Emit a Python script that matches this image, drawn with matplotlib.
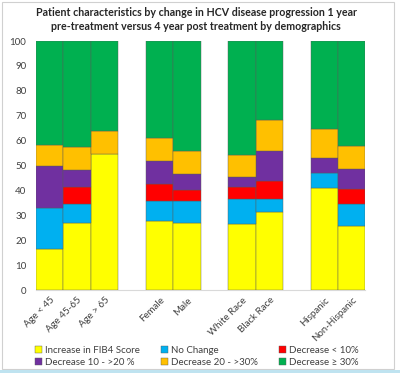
import numpy as np
import matplotlib
matplotlib.use("Agg")
from matplotlib import pyplot as plt
from matplotlib.patches import Rectangle

plt.rcParams["font.family"] = ["Lato", "DejaVu Sans"]

# categories, empty strings are the gaps between groups
categories = ["Age < 45", "Age 45-65", "Age > 65", "",
              "Female", "Male", "",
              "White Race", "Black Race", "",
              "Hispanic", "Non-Hispanic"]

series_names = ["Increase in FIB4 Score", "No Change", "Decrease < 10%",
                "Decrease 10 - >20 %", "Decrease 20 - >30%", "Decrease \u2265 30%"]
colors = ["#FFFF00", "#00B0F0", "#FF0000", "#7030A0", "#FFC000", "#00B050"]

# percent of patients per segment (gap columns are 0)
increase  = [16.3, 27.0, 54.5, 0, 27.7, 26.8, 0, 26.4, 31.5, 0, 41.1, 25.8]
no_change = [16.8,  7.7,  0.0, 0,  8.2,  9.1, 0, 10.0,  5.0, 0,  5.8,  8.7]
dec_lt10  = [ 0.0,  6.8,  0.0, 0,  6.5,  4.4, 0,  5.1,  7.3, 0,  0.0,  6.2]
dec_10_20 = [16.7,  6.7,  0.0, 0,  9.4,  6.3, 0,  4.0, 12.2, 0,  6.0,  8.0]
dec_20_30 = [ 8.3,  9.2,  9.2, 0,  9.4,  9.1, 0,  8.7, 12.3, 0, 11.8,  9.1]
dec_ge30  = [41.9, 42.6, 36.3, 0, 38.8, 44.3, 0, 45.8, 31.7, 0, 35.3, 42.2]

series = [increase, no_change, dec_lt10, dec_10_20, dec_20_30, dec_ge30]

fig = plt.figure(figsize=(4.0, 3.73), dpi=100)
ax = fig.add_axes([0.09, 0.2225, 0.8235, 0.6675])

x = np.arange(len(categories))
bottom = np.zeros(len(categories))
for name, vals, c in zip(series_names, series, colors):
    vals = np.array(vals, dtype=float)
    # no outline on empty segments so the gaps stay clean
    edges = ["#5a5a5a" if v > 0 else "none" for v in vals]
    ax.bar(x, vals, width=1.0, bottom=bottom, color=c, edgecolor=edges,
           linewidth=0.3, label=name)
    bottom += vals

ax.set_xlim(-0.5, len(categories) - 0.5)
ax.set_ylim(0, 100)
ax.set_yticks(np.arange(0, 101, 10))
ax.tick_params(axis="y", length=0, labelsize=7, labelcolor="#404040", pad=7)
ax.set_xticks(x)
ax.set_xticklabels(categories, rotation=45, ha="right", rotation_mode="anchor",
                   fontsize=7, color="#404040")
ax.tick_params(axis="x", length=0, pad=4)
for s in ["top", "right", "left"]:
    ax.spines[s].set_visible(False)
ax.spines["bottom"].set_color("#d9d9d9")
ax.spines["bottom"].set_linewidth(0.8)
ax.spines["bottom"].set_zorder(0)

fig.suptitle("Patient characteristics by change in HCV disease progression 1 year\n"
             "pre-treatment versus 4 year post treatment by demographics",
             x=0.49, y=0.982, fontsize=7.7, color="#262626", fontweight="bold",
             linespacing=1.4)

# Excel fills legend rows first, matplotlib columns first
handles, labels = ax.get_legend_handles_labels()
order = [0, 3, 1, 4, 2, 5]
leg = fig.legend([handles[i] for i in order], [labels[i] for i in order], ncol=3,
                 loc="lower left", bbox_to_anchor=(0.065, -0.008),
                 frameon=False, fontsize=7, handlelength=0.7, handleheight=0.7,
                 handletextpad=0.4, columnspacing=2.1, labelspacing=0.35,
                 labelcolor="#404040")
for h in leg.legend_handles:
    h.set_edgecolor("#5a5a5a")

# light chart border like the Excel chart area
fig.patches.append(Rectangle((0.004, 0.012), 0.98, 0.983, transform=fig.transFigure,
                             fill=False, edgecolor="#d0d0d0", linewidth=0.8))
fig.patches.append(Rectangle((0.0, 0.0), 1.0, 0.009, transform=fig.transFigure,
                             color="#bfe3f0", linewidth=0))

fig.savefig("out.png", dpi=100)
